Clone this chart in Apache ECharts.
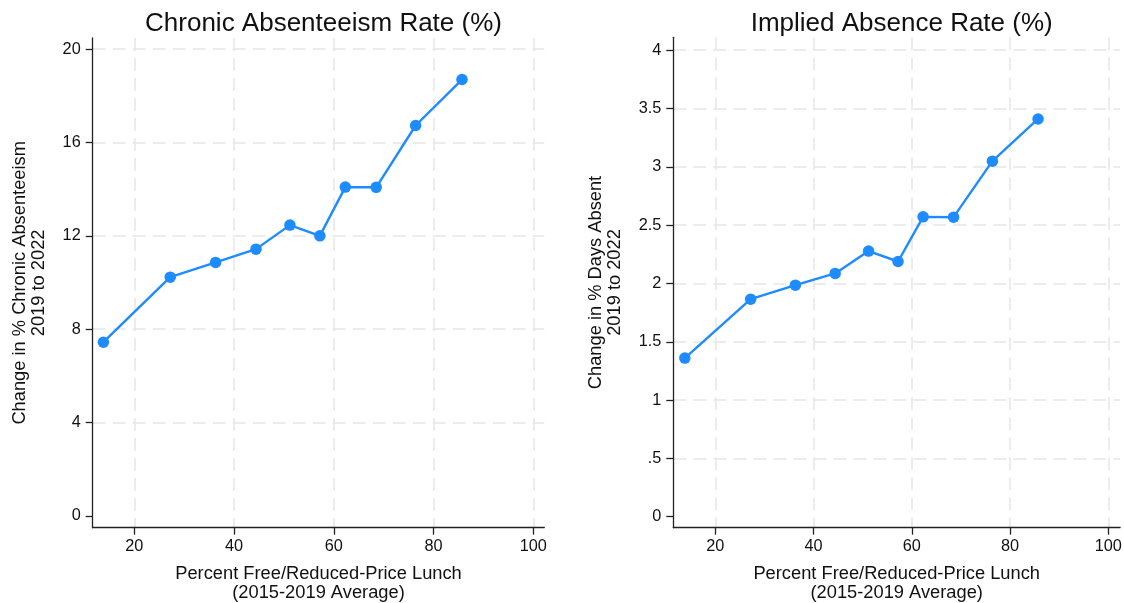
<!DOCTYPE html>
<html>
<head>
<meta charset="utf-8">
<script src="https://cdn.jsdelivr.net/npm/echarts@6/dist/echarts.min.js"></script>
<style>
html,body{margin:0;padding:0;background:#fff;}
#chart{width:1124px;height:603px;}
</style>
</head>
<body>
<div id="chart"></div>
<script>
// ---- data ----
const fplX = [13.8, 27.2, 36.3, 44.4, 51.2, 57.2, 62.3, 68.5, 76.4, 85.7];
const chronicY = [7.44, 10.23, 10.86, 11.43, 12.46, 12.0, 14.09, 14.08, 16.73, 18.70];
const absenceY = [1.36, 1.865, 1.985, 2.086, 2.277, 2.188, 2.571, 2.568, 3.048, 3.41];
const xTicks = [20, 40, 60, 80, 100];
const chronicTicks = [0, 4, 8, 12, 16, 20];
const absenceTicks = [0, 0.5, 1, 1.5, 2, 2.5, 3, 3.5, 4];
const titles = ['Chronic Absenteeism Rate (%)', 'Implied Absence Rate (%)'];
const yNames = ['Change in % Chronic Absenteeism\n2019 to 2022', 'Change in % Days Absent\n2019 to 2022'];
const xName = 'Percent Free/Reduced-Price Lunch\n(2015-2019 Average)';

const FONT = "'Liberation Sans', Arial, sans-serif";
const BLUE = '#1E8CFF';
const GRIDC = '#e6e6e6';

function fmtStata(v) {
  let s = String(v);
  if (s.startsWith('0.')) s = s.slice(1);
  return s;
}

function xAxisCfg(gi, min, max) {
  return {
    type: 'value', gridIndex: gi, min: min, max: max,
    name: xName, nameLocation: 'middle', nameGap: 37,
    nameTextStyle: {fontFamily: FONT, fontSize: 18.3, color: '#111', lineHeight: 19},
    axisLine: {show: true, onZero: false, lineStyle: {color: '#222', width: 1.3}},
    axisTick: {show: true, length: 7, customValues: xTicks, lineStyle: {color: '#222', width: 1.3}},
    axisLabel: {customValues: xTicks, margin: 11, fontFamily: FONT, fontSize: 16.3, color: '#111'},
    splitLine: {show: true, lineStyle: {color: GRIDC, width: 1.5, type: [13, 7]}}
  };
}
function yAxisCfg(gi, min, max, ticks, name, gap) {
  return {
    type: 'value', gridIndex: gi, min: min, max: max,
    name: name, nameLocation: 'middle', nameRotate: 90, nameGap: gap,
    nameTextStyle: {fontFamily: FONT, fontSize: 18.3, color: '#111', lineHeight: 19},
    axisLine: {show: true, onZero: false, lineStyle: {color: '#222', width: 1.3}},
    axisTick: {show: true, length: 7, customValues: ticks, lineStyle: {color: '#222', width: 1.3}},
    axisLabel: {customValues: ticks, margin: 12, fontFamily: FONT, fontSize: 16.3, color: '#111', formatter: fmtStata},
    splitLine: {show: true, showMinLine: false, lineStyle: {color: GRIDC, width: 1.5, type: [13, 7]}}
  };
}

const chart = echarts.init(document.getElementById('chart'), null, {renderer: 'canvas'});
chart.setOption({
  backgroundColor: '#fff',
  animation: false,
  title: [
    {text: titles[0], left: 318.5, top: 6, textAlign: 'center', textStyle: {fontFamily: FONT, fontSize: 26, fontWeight: 'normal', color: '#111'}},
    {text: titles[1], left: 896.7, top: 6, textAlign: 'center', textStyle: {fontFamily: FONT, fontSize: 26, fontWeight: 'normal', color: '#111'}}
  ],
  grid: [
    {left: 92.7, width: 451.6, top: 38, height: 489.7, containLabel: false, outerBoundsMode: 'none'},
    {left: 673.3, width: 446.8, top: 37.3, height: 490.4, containLabel: false, outerBoundsMode: 'none'}
  ],
  xAxis: [xAxisCfg(0, 11.66, 102.2), xAxisCfg(1, 11.45, 102.4)],
  yAxis: [
    yAxisCfg(0, -0.51, 20.48, chronicTicks, yNames[0], 44),
    yAxisCfg(1, -0.094, 4.11, absenceTicks, yNames[1], 49)
  ],
  series: [
    {type: 'line', xAxisIndex: 0, yAxisIndex: 0, data: fplX.map((x, i) => [x, chronicY[i]]),
     symbol: 'circle', symbolSize: 11.5, showSymbol: true,
     lineStyle: {color: BLUE, width: 2.4}, itemStyle: {color: BLUE}},
    {type: 'line', xAxisIndex: 1, yAxisIndex: 1, data: fplX.map((x, i) => [x, absenceY[i]]),
     symbol: 'circle', symbolSize: 11.5, showSymbol: true,
     lineStyle: {color: BLUE, width: 2.4}, itemStyle: {color: BLUE}}
  ]
});
</script>
</body>
</html>
